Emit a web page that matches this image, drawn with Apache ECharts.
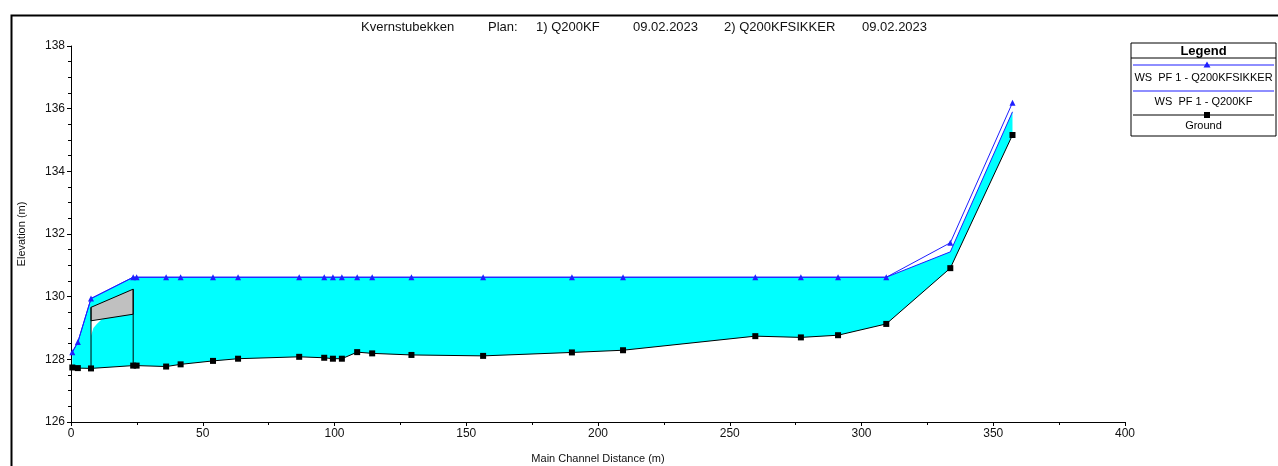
<!DOCTYPE html>
<html>
<head>
<meta charset="utf-8">
<title>Kvernstubekken</title>
<script src="https://cdn.jsdelivr.net/npm/echarts/dist/echarts.min.js"></script>
<style>
  html, body { margin: 0; padding: 0; background: #fff; }
  #profile { width: 1278px; height: 466px; }
</style>
</head>
<body>
<div id="profile"></div>
<script>
// main channel stations (m) and elevations (m)
var stations = [0.5, 2.6, 7.6, 23.6, 24.9, 36.1, 41.6, 53.9, 63.4, 86.6, 96.1, 99.4, 102.8, 108.6, 114.3, 129.2, 156.4, 190.1, 209.5, 259.7, 277.0, 291.1, 309.4, 333.7, 357.3];
var ground = [127.74, 127.72, 127.71, 127.80, 127.80, 127.77, 127.84, 127.95, 128.02, 128.08, 128.05, 128.02, 128.02, 128.23, 128.19, 128.14, 128.11, 128.22, 128.29, 128.74, 128.70, 128.77, 129.13, 130.91, 135.16];
var wsSikker = [128.23, 128.55, 129.94, 130.62, 130.62, 130.62, 130.62, 130.62, 130.62, 130.62, 130.62, 130.62, 130.62, 130.62, 130.62, 130.62, 130.62, 130.62, 130.62, 130.62, 130.62, 130.62, 130.62, 131.72, 136.19];
var wsKf = [128.23, 128.55, 129.94, 130.62, 130.62, 130.62, 130.62, 130.62, 130.62, 130.62, 130.62, 130.62, 130.62, 130.62, 130.62, 130.62, 130.62, 130.62, 130.62, 130.62, 130.62, 130.62, 130.62, 131.43, 135.90];

// bridge deck (road top / low chord) and water under the deck
var deckStations = [7.6, 23.6];
var deckTop = [129.66, 130.24];
var deckLow = [129.23, 129.44];
var bridgeWsStations = [7.6, 8.5, 9.8, 11.6, 12.9];
var bridgeWs = [128.75, 129.0, 129.13, 129.27, 129.30];

var xTicks = { min: 0, max: 400, interval: 50 };
var yTicks = { min: 126, max: 138, interval: 2 };

var titleParts = ['Kvernstubekken', 'Plan:', '1) Q200KF', '09.02.2023', '2) Q200KFSIKKER', '09.02.2023'];
var legendNames = ['WS  PF 1 - Q200KFSIKKER', 'WS  PF 1 - Q200KF', 'Ground'];

var font = 'Liberation Sans, Arial, sans-serif';

function pairs(xs, ys) {
  return xs.map(function (x, i) { return [x, ys[i]]; });
}

var myChart = echarts.init(document.getElementById('profile'));

// water between Q200KF surface and ground
function renderWater(params, api) {
  var pts = [];
  for (var i = 0; i < stations.length; i++) pts.push(api.coord([stations[i], wsKf[i]]));
  for (var j = stations.length - 1; j >= 0; j--) pts.push(api.coord([stations[j], ground[j]]));
  return { type: 'polygon', shape: { points: pts }, style: { fill: '#00ffff' } };
}

function renderBridge(params, api) {
  var gap = bridgeWsStations.map(function (s, i) { return api.coord([s, bridgeWs[i]]); });
  gap.push(api.coord([deckStations[0], deckLow[0]]));
  var deck = [
    api.coord([deckStations[0], deckTop[0]]),
    api.coord([deckStations[1], deckTop[1]]),
    api.coord([deckStations[1], deckLow[1]]),
    api.coord([deckStations[0], deckLow[0]])
  ];
  var g0 = api.coord([deckStations[0], ground[2]]);
  var g1 = api.coord([deckStations[1], ground[3]]);
  return {
    type: 'group',
    children: [
      { type: 'polygon', shape: { points: gap }, style: { fill: '#ffffff' } },
      { type: 'polygon', shape: { points: deck }, style: { fill: '#c0c0c0', stroke: '#000', lineWidth: 1 } },
      { type: 'line', shape: { x1: deck[0][0], y1: deck[0][1], x2: g0[0], y2: g0[1] }, style: { stroke: '#000', lineWidth: 1 } },
      { type: 'line', shape: { x1: deck[1][0], y1: deck[1][1], x2: g1[0], y2: g1[1] }, style: { stroke: '#000', lineWidth: 1 } }
    ]
  };
}

// title pieces laid out like the HEC-RAS header
var titleX = [361, 488, 536, 633, 724, 862];
var graphics = [
  { type: 'rect', left: 9, top: 13, shape: { width: 1300, height: 500 }, style: { fill: 'none', stroke: '#000', lineWidth: 2 }, z: 10 }
];
titleParts.forEach(function (t, i) {
  graphics.push({ type: 'text', x: titleX[i], y: 27, style: { text: t, font: '13px ' + font, fill: '#111', textVerticalAlign: 'middle' }, z: 10 });
});

// legend box
var lg = { x: 1131, y: 43, w: 145, h: 93 };
graphics.push(
  { type: 'rect', shape: { x: lg.x, y: lg.y, width: lg.w, height: lg.h }, style: { fill: '#fff', stroke: '#000', lineWidth: 1 }, z: 10 },
  { type: 'text', x: lg.x + lg.w / 2, y: 51, style: { text: 'Legend', font: 'bold 13px ' + font, fill: '#000', textAlign: 'center', textVerticalAlign: 'middle' }, z: 11 },
  { type: 'line', shape: { x1: lg.x, y1: 58, x2: lg.x + lg.w, y2: 58 }, style: { stroke: '#000', lineWidth: 1 }, z: 11 },
  { type: 'line', shape: { x1: lg.x + 2, y1: 65, x2: lg.x + lg.w - 2, y2: 65 }, style: { stroke: '#1f1fff', lineWidth: 1.2 }, z: 11 },
  { type: 'polygon', shape: { points: [[1207, 61.5], [1210.5, 67.5], [1203.5, 67.5]] }, style: { fill: '#1f1fff' }, z: 12 },
  { type: 'text', x: lg.x + lg.w / 2, y: 78, style: { text: legendNames[0], font: '11px ' + font, fill: '#000', textAlign: 'center', textVerticalAlign: 'middle' }, z: 11 },
  { type: 'line', shape: { x1: lg.x + 2, y1: 91, x2: lg.x + lg.w - 2, y2: 91 }, style: { stroke: '#1f1fff', lineWidth: 1.2 }, z: 11 },
  { type: 'text', x: lg.x + lg.w / 2, y: 102, style: { text: legendNames[1], font: '11px ' + font, fill: '#000', textAlign: 'center', textVerticalAlign: 'middle' }, z: 11 },
  { type: 'line', shape: { x1: lg.x + 2, y1: 115, x2: lg.x + lg.w - 2, y2: 115 }, style: { stroke: '#000', lineWidth: 1 }, z: 11 },
  { type: 'rect', shape: { x: 1204, y: 112, width: 6, height: 6 }, style: { fill: '#000' }, z: 12 },
  { type: 'text', x: lg.x + lg.w / 2, y: 126, style: { text: legendNames[2], font: '11px ' + font, fill: '#000', textAlign: 'center', textVerticalAlign: 'middle' }, z: 11 }
);

var options = {
  animation: false,
  backgroundColor: '#fff',
  textStyle: { fontFamily: font },
  grid: { left: 71, right: 153, top: 46, bottom: 44, containLabel: false, outerBoundsMode: 'none' },
  graphic: graphics,
  xAxis: {
    type: 'value',
    min: xTicks.min, max: xTicks.max, interval: xTicks.interval,
    name: 'Main Channel Distance (m)',
    nameLocation: 'middle',
    nameGap: 31,
    nameTextStyle: { fontSize: 11, color: '#111' },
    axisLine: { lineStyle: { color: '#000', width: 1 } },
    axisTick: { inside: false, length: 4, lineStyle: { color: '#000' } },
    minorTick: { show: true, splitNumber: 2, length: 3, lineStyle: { color: '#000' } },
    axisLabel: { fontSize: 12, color: '#111', margin: 6 },
    splitLine: { show: false }
  },
  yAxis: {
    type: 'value',
    min: yTicks.min, max: yTicks.max, interval: yTicks.interval,
    name: 'Elevation (m)',
    nameLocation: 'middle',
    nameGap: 44,
    nameTextStyle: { fontSize: 11, color: '#111' },
    axisLine: { show: true, lineStyle: { color: '#000', width: 1 } },
    axisTick: { show: true, inside: false, length: 4, lineStyle: { color: '#000' } },
    minorTick: { show: true, splitNumber: 4, length: 3, lineStyle: { color: '#000' } },
    axisLabel: { fontSize: 12, color: '#111', margin: 6 },
    splitLine: { show: false }
  },
  series: [
    { name: 'water', type: 'custom', renderItem: renderWater, data: [[0, 126]], z: 1, silent: true },
    { name: 'bridge', type: 'custom', renderItem: renderBridge, data: [[0, 126]], z: 2, silent: true },
    {
      name: 'WS PF 1 - Q200KF', type: 'line', data: pairs(stations, wsKf),
      symbol: 'none', lineStyle: { color: '#1f1fff', width: 1 }, z: 3
    },
    {
      name: 'WS PF 1 - Q200KFSIKKER', type: 'line', data: pairs(stations, wsSikker),
      symbol: 'triangle', symbolSize: 6, showAllSymbol: true,
      itemStyle: { color: '#1f1fff' }, lineStyle: { color: '#1f1fff', width: 1 }, z: 4
    },
    {
      name: 'Ground', type: 'line', data: pairs(stations, ground),
      symbol: 'rect', symbolSize: 6, showAllSymbol: true,
      itemStyle: { color: '#000' }, lineStyle: { color: '#000', width: 1 }, z: 5
    }
  ]
};

myChart.setOption(options);
window.onresize = function () { myChart.resize(); };
</script>
</body>
</html>
